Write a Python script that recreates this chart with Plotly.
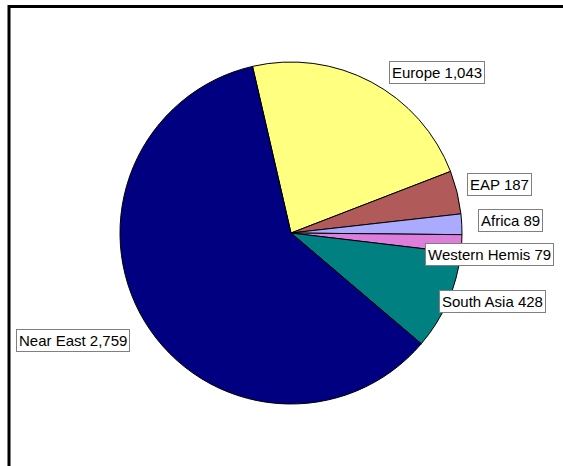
import plotly.graph_objects as go

# ---- data ----
regions = ["Europe", "EAP", "Africa", "Western Hemis", "South Asia", "Near East"]
values = [1043, 187, 89, 79, 428, 2759]
colors = ["#FFFF80", "#B05A5A", "#AAAAFF", "#DD7EDD", "#008080", "#000080"]

# label box centres (pixels, from top-left) - layout only
label_px = [(437, 72), (499, 184), (510, 220), (489, 254), (492, 301), (73, 340)]

W, H = 563, 466
cx, cy, r = 291, 233, 171

fig = go.Figure()
fig.add_trace(go.Pie(
    labels=regions,
    values=values,
    sort=False,
    direction="clockwise",
    rotation=-13,
    textinfo="none",
    marker=dict(colors=colors, line=dict(color="#000000", width=1)),
    domain=dict(x=[(cx - r) / W, (cx + r) / W], y=[(H - cy - r) / H, (H - cy + r) / H]),
    showlegend=False,
))

for name, v, (px, py) in zip(regions, values, label_px):
    fig.add_annotation(
        x=px / W, y=1 - py / H, xref="paper", yref="paper",
        xanchor="center", yanchor="middle",
        text=f"{name} {v:,}", showarrow=False,
        font=dict(family="Liberation Sans, Arial", size=15, color="#000000"),
        bgcolor="#FFFFFF", bordercolor="#808080", borderwidth=1, borderpad=2,
    )

# chart frame
fig.add_shape(type="rect", xref="paper", yref="paper",
              x0=9 / W, x1=1.02, y0=-0.05, y1=1 - 6.5 / H,
              line=dict(color="#000000", width=3), fillcolor="rgba(0,0,0,0)")

fig.update_layout(
    width=W, height=H,
    margin=dict(l=0, r=0, t=0, b=0),
    paper_bgcolor="#FFFFFF", plot_bgcolor="#FFFFFF",
)

fig.write_html("out.html")
